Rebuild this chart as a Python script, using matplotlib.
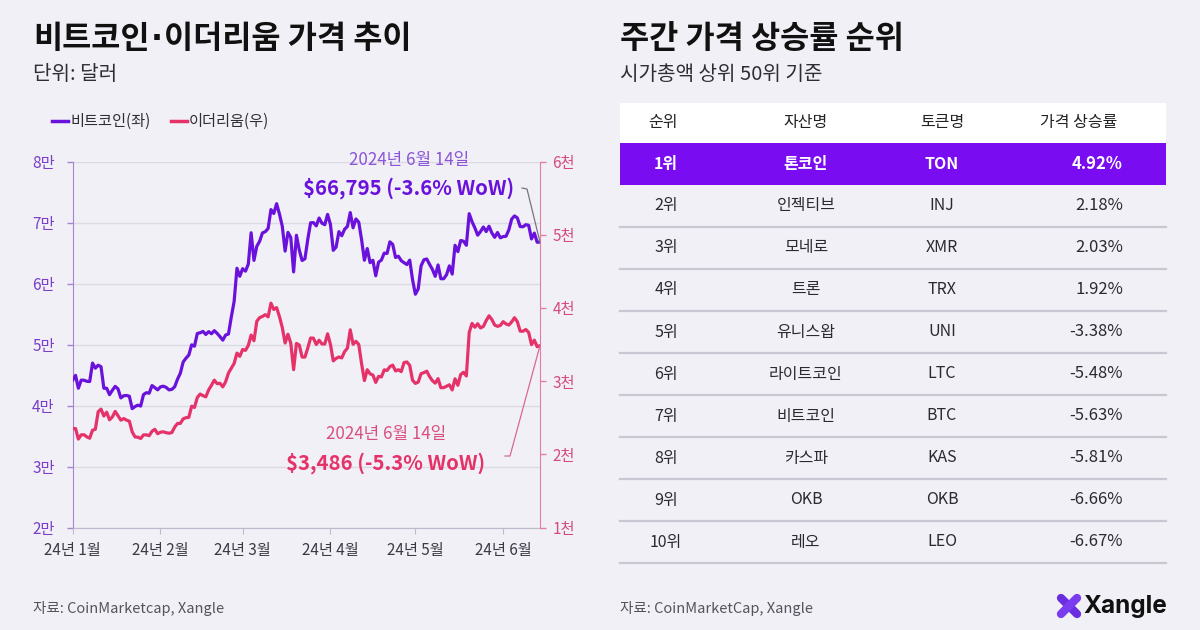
import pandas as pd
import matplotlib.pyplot as plt
import matplotlib.dates as mdates
from matplotlib.patches import Rectangle
from matplotlib.lines import Line2D

plt.rcParams['font.family'] = ['Noto Sans CJK KR', 'DejaVu Sans']

# daily closes, 2024-01-01 ~ 2024-06-14
btc = [
    44167, 44957, 42848, 44179, 44162, 43989, 43943, 46970, 46139, 46627, 46368, 42853, 42842, 41796, 42511, 43154,
    42742, 41262, 41618, 41665, 41545, 39507, 39845, 40077, 39933, 41816, 42120, 42035, 43288, 42952, 42582,
    43075, 43185, 42992, 42583, 42658, 43084, 44318, 45301, 47147, 47771, 48293, 49958, 49742, 51826, 51938,
    52160, 51663, 52122, 51779, 52284, 51839, 51304, 50731, 51571, 51733, 54522, 57085, 62504, 61198,
    62440, 62029, 63167, 68330, 63801, 66106, 66925, 68300, 68498, 69019, 72123, 71481, 73083, 71397, 69403, 65315,
    68391, 67548, 61912, 67913, 65491, 63779, 64062, 67234, 69958, 69987, 69455, 70744, 69892, 69645, 71333,
    69702, 65446, 65980, 68508, 67837, 68896, 69362, 71631, 69139, 70587, 70060, 67195, 63821, 65738, 63426,
    63811, 61276, 63512, 63843, 64994, 64927, 66837, 66407, 64276, 64481, 63755, 63419, 63113, 63841, 60636,
    58254, 59123, 62889, 63891, 64031, 63161, 62334, 61187, 63049, 60793, 60793, 61448, 62901, 61552, 66267, 65231,
    67051, 66940, 66278, 71448, 70136, 69122, 67929, 68526, 69265, 68518, 69394, 68296, 67578, 68364, 67491,
    67706, 67751, 68804, 70567, 71082, 70757, 69342, 69305, 69648, 69540, 67314, 68263, 66774, 66795,
]
eth = [
    2352, 2355, 2210, 2268, 2269, 2240, 2222, 2331, 2344, 2584, 2619, 2525, 2577, 2473, 2512, 2588,
    2529, 2468, 2490, 2469, 2454, 2309, 2239, 2236, 2218, 2267, 2268, 2257, 2317, 2343, 2283,
    2304, 2309, 2297, 2290, 2299, 2373, 2423, 2424, 2486, 2502, 2507, 2659, 2642, 2778, 2825,
    2803, 2787, 2881, 2945, 3015, 2967, 2972, 2923, 2993, 3112, 3178, 3243, 3384, 3340,
    3433, 3421, 3488, 3630, 3553, 3818, 3868, 3884, 3909, 3879, 4066, 3980, 4005, 3882, 3734, 3522,
    3642, 3520, 3158, 3516, 3494, 3330, 3330, 3453, 3590, 3588, 3501, 3560, 3509, 3508, 3647,
    3504, 3278, 3311, 3331, 3318, 3404, 3451, 3702, 3504, 3544, 3503, 3240, 3009, 3157, 3101,
    3084, 2984, 3066, 3058, 3155, 3147, 3200, 3219, 3140, 3157, 3131, 3255, 3263, 3216, 3014,
    2970, 2988, 3103, 3117, 3137, 3064, 3008, 2974, 3036, 2911, 2913, 2931, 2951, 2881, 3033, 2945,
    3092, 3122, 3072, 3665, 3790, 3737, 3785, 3727, 3748, 3828, 3893, 3843, 3767, 3749, 3762,
    3813, 3782, 3767, 3810, 3867, 3813, 3683, 3683, 3706, 3666, 3500, 3561, 3471, 3486,
]
dates = pd.date_range('2024-01-01', '2024-06-14')

left_ticks = [20000, 30000, 40000, 50000, 60000, 70000, 80000]
left_labels = ['2만', '3만', '4만', '5만', '6만', '7만', '8만']
right_ticks = [1000, 2000, 3000, 4000, 5000, 6000]
right_labels = ['1천', '2천', '3천', '4천', '5천', '6천']
month_ticks = pd.date_range('2024-01-01', '2024-06-01', freq='MS')
month_labels = ['24년 1월', '24년 2월', '24년 3월', '24년 4월', '24년 5월', '24년 6월']

ranks = ['1위', '2위', '3위', '4위', '5위', '6위', '7위', '8위', '9위', '10위']
assets = ['톤코인', '인젝티브', '모네로', '트론', '유니스왑', '라이트코인', '비트코인', '카스파', 'OKB', '레오']
tokens = ['TON', 'INJ', 'XMR', 'TRX', 'UNI', 'LTC', 'BTC', 'KAS', 'OKB', 'LEO']
changes = [4.92, 2.18, 2.03, 1.92, -3.38, -5.48, -5.63, -5.81, -6.66, -6.67]

BG = '#f1f0f6'
PURPLE = '#6a12dc'
PINK = '#e5336a'

W, H = 1200, 630
def fx(x):
    return x / W
def fy(y):
    return 1 - y / H

fig = plt.figure(figsize=(12, 6.3), dpi=100, facecolor=BG)
r = fig.canvas.get_renderer()

# ---- left: line chart ----
ax = fig.add_axes([fx(72.7), fy(527.7), fx(540) - fx(72.7), fy(161.5) - fy(527.7)])
ax.set_facecolor(BG)
ax2 = ax.twinx()

ax.plot(dates, btc, color=PURPLE, lw=2.3, zorder=3)
ax2.plot(dates, eth, color=PINK, lw=2.3, zorder=3)

ax.set_xlim(dates[0], dates[-1])
ax.set_ylim(20000, 80000)
ax2.set_ylim(1000, 6000)
ax.set_yticks(left_ticks)
ax.set_yticklabels(left_labels)
ax2.set_yticks(right_ticks)
ax2.set_yticklabels(right_labels)
ax.set_xticks(month_ticks)
ax.set_xticklabels(month_labels)

ax.grid(axis='y', color='#dcdbe5', lw=1)
ax.set_axisbelow(True)
for a in (ax, ax2):
    a.spines['top'].set_visible(False)
ax.spines['right'].set_visible(False)
ax2.spines['left'].set_visible(False)
ax2.spines['bottom'].set_visible(False)
ax.spines['left'].set_color('#a784cf')
ax2.spines['right'].set_color('#e37ea3')
ax.spines['bottom'].set_color('#bdbbcb')
ax.tick_params(axis='y', colors='#7a3ec8', labelsize=11, length=4, width=1, pad=9)
ax.tick_params(axis='y', color='#a784cf')
ax2.tick_params(axis='y', colors='#d44c7d', labelsize=11, length=4, width=1, pad=5)
ax2.tick_params(axis='y', color='#e37ea3')
ax.tick_params(axis='x', labelsize=11, labelcolor='#3a3a44', color='#bdbbcb', length=4, pad=6)

# connectors from labels to the last values
to_fig = fig.transFigure.inverted()
p_btc = to_fig.transform(ax.transData.transform((mdates.date2num(dates[-1]), btc[-1])))
p_eth = to_fig.transform(ax2.transData.transform((mdates.date2num(dates[-1]), eth[-1])))
fig.add_artist(Line2D([fx(522), fx(527), p_btc[0]], [fy(188), fy(189), p_btc[1]], color='#77747f', lw=0.9))
fig.add_artist(Line2D([fx(505), fx(510), p_eth[0]], [fy(456), fy(456), p_eth[1]], color='#d9678f', lw=0.9))

fig.text(fx(409), fy(160), '2024년 6월 14일', color='#8a55d8', fontsize=12.2, ha='center', va='center')
fig.text(fx(409), fy(188), '$66,795 (-3.6% WoW)', color=PURPLE, fontsize=14.7, fontweight='bold',
         ha='center', va='center')
fig.text(fx(386), fy(434), '2024년 6월 14일', color='#d9507f', fontsize=12.2, ha='center', va='center')
fig.text(fx(386), fy(463), '$3,486 (-5.3% WoW)', color=PINK, fontsize=14.7, fontweight='bold',
         ha='center', va='center')

# legend
fig.add_artist(Line2D([fx(52), fx(68)], [fy(121), fy(121)], color=PURPLE, lw=2.5))
fig.text(fx(70), fy(121), '비트코인(좌)', fontsize=11, color='#2e2e36', va='center')
fig.add_artist(Line2D([fx(171), fx(187)], [fy(121), fy(121)], color=PINK, lw=2.5))
fig.text(fx(189), fy(121), '이더리움(우)', fontsize=11, color='#2e2e36', va='center')

# titles (narrow middle dot from DejaVu)
tkw = dict(fontsize=22.8, fontweight='bold', color='#111111', va='center')
t1 = fig.text(fx(33), fy(39), '비트코인', **tkw)
x1 = t1.get_window_extent(r).x1
t2 = fig.text((x1 + 1) / W, fy(39), '·', family='DejaVu Sans', **tkw)
x2 = t2.get_window_extent(r).x1
fig.text((x2 + 1) / W, fy(39), '이더리움 가격 추이', **tkw)
fig.text(fx(33), fy(74), '단위: 달러', fontsize=14.5, color='#2e2e36', va='center')
fig.text(fx(620), fy(39), '주간 가격 상승률 순위', **tkw)
fig.text(fx(620), fy(74), '시가총액 상위 50위 기준', fontsize=14.5, color='#2e2e36', va='center')

# ---- right: ranking table ----
tx0, tx1 = 620, 1166
top, head_h, row_h = 103, 40, 42
fig.add_artist(Rectangle((fx(tx0), fy(top + head_h)), fx(tx1) - fx(tx0), head_h / H,
                         transform=fig.transFigure, facecolor='white', edgecolor='none'))
fig.add_artist(Rectangle((fx(tx0), fy(top + head_h + row_h)), fx(tx1) - fx(tx0), row_h / H,
                         transform=fig.transFigure, facecolor='#7a0cf2', edgecolor='none'))

col_rank, col_asset, col_token, col_pct = 666, 806, 942, 1123
fs = 11.5
hy = top + head_h / 2
for x, t in [(col_rank - 3, '순위'), (col_asset, '자산명'), (col_token, '토큰명'), (1079, '가격 상승률')]:
    fig.text(fx(x), fy(hy), t, fontsize=fs, color='#222222', ha='center', va='center')

for i in range(len(ranks)):
    cy = top + head_h + row_h * i + row_h / 2
    first = i == 0
    c = 'white' if first else '#2a2a30'
    w = 'bold' if first else 'normal'
    fig.text(fx(col_rank), fy(cy), ranks[i], fontsize=fs, color=c, fontweight=w, ha='center', va='center')
    fig.text(fx(col_asset), fy(cy), assets[i], fontsize=fs, color=c, fontweight=w, ha='center', va='center')
    fig.text(fx(col_token), fy(cy), tokens[i], fontsize=fs, color=c, fontweight=w, ha='center', va='center')
    fig.text(fx(col_pct), fy(cy), f'{changes[i]:.2f}%', fontsize=12, color=c, fontweight=w,
             ha='right', va='center')
    if i > 0:
        ly = top + head_h + row_h * (i + 1)
        fig.add_artist(Line2D([fx(tx0), fx(tx1)], [fy(ly), fy(ly)], color='#c9c8d2', lw=1.6))

# footers
fig.text(fx(33), fy(609), '자료: CoinMarketcap, Xangle', fontsize=10.5, color='#55545e', va='center')
fig.text(fx(620), fy(609), '자료: CoinMarketCap, Xangle', fontsize=10.5, color='#55545e', va='center')

# Xangle logo
fig.add_artist(Line2D([fx(1061), fx(1077)], [fy(598), fy(614)], color='#6a2ee0', lw=6, solid_capstyle='round'))
fig.add_artist(Line2D([fx(1061), fx(1077)], [fy(614), fy(598)], color='#7b3cf0', lw=6, solid_capstyle='round'))
fig.text(fx(1083), fy(606), 'Xangle', fontsize=17.5, fontweight='bold', family='Inter', color='#111111', va='center')

fig.savefig('out.png', dpi=100, facecolor=BG)
